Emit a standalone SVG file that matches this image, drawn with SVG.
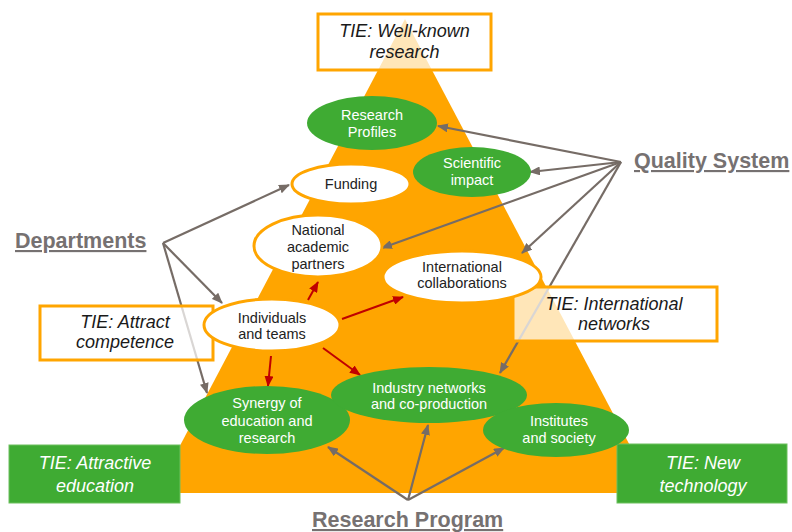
<svg xmlns="http://www.w3.org/2000/svg" width="792" height="532" viewBox="0 0 792 532">
  <style>
    text { font-family: "Liberation Sans", Arial, sans-serif; }
    .tie { font-size: 18px; font-style: italic; fill: #1a1a1a; text-anchor: middle; }
    .tie-g { font-size: 18px; font-style: italic; fill: #ffffff; text-anchor: middle; }
    .box { fill: #ffffff; fill-opacity: 0.72; stroke: #ffa500; stroke-width: 3; }
    .gbox { fill: #3fab33; stroke: #6cc05f; stroke-width: 1; }
    .wnode { fill: #ffffff; stroke: #ffa500; stroke-width: 3; }
    .gnode { fill: #3fab33; }
    .wt { font-size: 14.5px; fill: #222222; text-anchor: middle; }
    .gt { font-size: 14.5px; fill: #ffffff; text-anchor: middle; }
    .src { font-size: 21.5px; font-weight: bold; fill: #767171; text-decoration: underline; }
    .gl { stroke: #766c66; stroke-width: 2.2; fill: none; marker-end: url(#ga); }
    .rl { stroke: #c00000; stroke-width: 2; fill: none; marker-end: url(#ra); }
  </style>
  <defs>
    <marker id="ga" markerUnits="userSpaceOnUse" markerWidth="11" markerHeight="9" refX="10" refY="4.5" orient="auto">
      <path d="M0,0 L11,4.5 L0,9 Z" fill="#766c66"/>
    </marker>
    <marker id="ra" markerUnits="userSpaceOnUse" markerWidth="11" markerHeight="9" refX="10" refY="4.5" orient="auto">
      <path d="M0,0 L11,4.5 L0,9 Z" fill="#c00000"/>
    </marker>
  </defs>

  <!-- background pyramid -->
  <polygon id="pyramid" points="405,19 655,493 155,493" fill="#ffa500"/>

  <!-- connectors -->
  <g id="connectors">
    <!-- Departments -->
    <line class="gl" x1="163" y1="243" x2="289" y2="185"/>
    <line class="gl" x1="163" y1="243" x2="222" y2="303"/>
    <line class="gl" x1="163" y1="243" x2="207" y2="393"/>
    <!-- Quality System -->
    <line class="gl" x1="621" y1="162" x2="438" y2="126"/>
    <line class="gl" x1="621" y1="162" x2="530" y2="172"/>
    <line class="gl" x1="621" y1="162" x2="382" y2="248"/>
    <line class="gl" x1="621" y1="162" x2="522" y2="253"/>
    <line class="gl" x1="621" y1="162" x2="500" y2="373"/>
    <!-- Research Program -->
    <line class="gl" x1="408" y1="500" x2="328" y2="447"/>
    <line class="gl" x1="408" y1="500" x2="428" y2="425"/>
    <line class="gl" x1="408" y1="500" x2="504" y2="448"/>
    <!-- Individuals and teams -->
    <line class="rl" x1="308" y1="300" x2="318" y2="282"/>
    <line class="rl" x1="342" y1="319" x2="403" y2="297"/>
    <line class="rl" x1="271" y1="356" x2="268" y2="386"/>
    <line class="rl" x1="323" y1="348" x2="360" y2="375"/>
  </g>

  <!-- TIE boxes -->
  <g id="tie-wellknown">
    <rect class="box" x="318" y="14" width="173" height="56"/>
    <text class="tie" x="404.5" y="37">TIE: Well-known</text>
    <text class="tie" x="404.5" y="58">research</text>
  </g>
  <g id="tie-attract">
    <rect class="box" x="40" y="306" width="173" height="54"/>
    <text class="tie" x="125" y="328">TIE: Attract</text>
    <text class="tie" x="125" y="348">competence</text>
  </g>
  <g id="tie-international">
    <rect class="box" x="513" y="287" width="204" height="54"/>
    <text class="tie" x="614" y="310">TIE: International</text>
    <text class="tie" x="614" y="330">networks</text>
  </g>
  <g id="tie-education">
    <rect class="gbox" x="9" y="445" width="171" height="58"/>
    <text class="tie-g" x="95" y="469">TIE: Attractive</text>
    <text class="tie-g" x="95" y="492">education</text>
  </g>
  <g id="tie-technology">
    <rect class="gbox" x="617" y="444" width="170" height="59"/>
    <text class="tie-g" x="703" y="469">TIE: New</text>
    <text class="tie-g" x="703" y="492">technology</text>
  </g>

  <!-- nodes -->
  <g id="research-profiles">
    <ellipse class="gnode" cx="372" cy="123" rx="65" ry="27"/>
    <text class="gt" x="372" y="120">Research</text>
    <text class="gt" x="372" y="137">Profiles</text>
  </g>
  <g id="scientific-impact">
    <ellipse class="gnode" cx="472" cy="172" rx="59" ry="25"/>
    <text class="gt" x="472" y="168">Scientific</text>
    <text class="gt" x="472" y="185">impact</text>
  </g>
  <g id="funding">
    <ellipse class="wnode" cx="351" cy="184" rx="59" ry="20"/>
    <text class="wt" x="351" y="189">Funding</text>
  </g>
  <g id="national-partners">
    <ellipse class="wnode" cx="318" cy="246" rx="64" ry="31"/>
    <text class="wt" x="318" y="235">National</text>
    <text class="wt" x="318" y="252">academic</text>
    <text class="wt" x="318" y="269">partners</text>
  </g>
  <g id="international-collaborations">
    <ellipse class="wnode" cx="462" cy="277" rx="79" ry="26"/>
    <text class="wt" x="462" y="272">International</text>
    <text class="wt" x="462" y="288">collaborations</text>
  </g>
  <g id="individuals-teams">
    <ellipse class="wnode" cx="272" cy="325" rx="68" ry="26"/>
    <text class="wt" x="272" y="323">Individuals</text>
    <text class="wt" x="272" y="339">and teams</text>
  </g>
  <g id="synergy">
    <ellipse class="gnode" cx="267" cy="420" rx="83" ry="34"/>
    <text class="gt" x="267" y="408">Synergy of</text>
    <text class="gt" x="267" y="426">education and</text>
    <text class="gt" x="267" y="443">research</text>
  </g>
  <g id="industry-networks">
    <ellipse class="gnode" cx="429" cy="395" rx="98" ry="28"/>
    <text class="gt" x="429" y="393">Industry networks</text>
    <text class="gt" x="429" y="409">and co-production</text>
  </g>
  <g id="institutes-society">
    <ellipse class="gnode" cx="556" cy="430" rx="73" ry="27"/>
    <text class="gt" x="559" y="426">Institutes</text>
    <text class="gt" x="559" y="443">and society</text>
  </g>

  <!-- source labels -->
  <g id="departments">
    <text class="src" x="15" y="248">Departments</text>
  </g>
  <g id="quality-system">
    <text class="src" x="634" y="168">Quality System</text>
  </g>
  <g id="research-program">
    <text class="src" x="312" y="527">Research Program</text>
  </g>
</svg>
